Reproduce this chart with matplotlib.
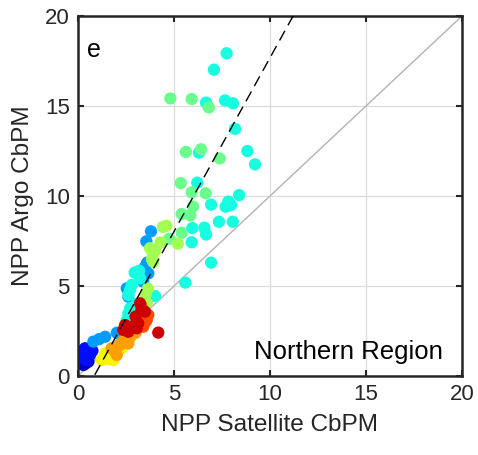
import matplotlib
matplotlib.use("Agg")
import matplotlib.pyplot as plt
import numpy as np

plt.rcParams['font.family'] = ['Liberation Sans', 'DejaVu Sans']

# Data: (satellite, argo) per colour group on the jet scale
cyan_x = [7.74, 7.08, 6.67, 7.66, 8.07, 8.18, 6.30, 8.82, 9.22, 6.21, 8.39, 6.93, 7.83, 7.69,
          7.97, 7.34, 8.06, 5.95, 6.58, 6.67, 5.92, 6.93, 5.59, 3.18, 3.23, 2.80, 2.71, 4.01,
          2.62, 2.71, 2.62, 2.54, 2.95, 3.05]
cyan_y = [17.93, 17.02, 15.19, 15.31, 15.15, 13.73, 12.41, 12.50, 11.76, 10.74, 10.05, 9.52,
          9.69, 9.41, 9.50, 8.57, 8.57, 8.22, 8.24, 7.86, 7.43, 6.30, 5.19, 5.85, 5.43, 5.06,
          4.78, 4.44, 4.50, 3.76, 3.48, 3.11, 5.75, 4.00]
green_x = [4.81, 5.92, 6.81, 5.62, 6.41, 7.38, 5.35, 5.92, 6.65, 5.99, 5.40, 5.85, 5.40, 4.74]
green_y = [15.42, 15.39, 14.92, 12.45, 12.60, 12.09, 10.72, 10.20, 10.15, 9.41, 9.00, 8.92,
           7.96, 7.62]
ygreen_x = [4.42, 4.60, 5.20, 4.30, 4.01, 3.90, 3.85, 3.92, 3.64, 3.52, 3.58, 3.75]
ygreen_y = [8.28, 8.35, 7.35, 7.42, 6.95, 6.75, 6.50, 6.35, 4.86, 4.52, 4.06, 7.10]
dblue_x = [3.80, 3.56, 3.60, 3.66, 3.40, 2.54, 2.62, 2.02, 1.41, 0.80, 1.10, 3.48]
dblue_y = [8.04, 7.48, 6.30, 5.70, 5.24, 4.87, 4.41, 2.40, 2.18, 1.91, 2.05, 6.05]
blue_x = [0.10, 0.36, 0.63, 0.19, 0.45, 0.02, 0.75, 0.30]
blue_y = [1.35, 1.54, 1.17, 1.07, 0.89, 1.00, 1.40, 1.25]
navy_x = [0.54, 0.28, 0.12, 0.40]
navy_y = [0.80, 0.61, 0.72, 0.70]
yellow_x = [1.41, 1.23, 1.84, 1.67, 2.28, 1.55, 2.05]
yellow_y = [1.26, 0.89, 0.89, 1.17, 1.54, 0.95, 1.30]
orange_x = [2.45, 2.19, 1.93, 1.75, 2.62, 2.02, 2.80, 3.00, 2.35, 2.70]
orange_y = [2.09, 1.72, 1.35, 1.54, 1.81, 1.17, 2.30, 2.40, 1.95, 2.15]
ored_x = [3.58, 3.14, 3.40, 3.66, 3.30, 3.50]
ored_y = [3.11, 3.30, 2.74, 3.39, 3.90, 3.00]
red_x = [3.23, 3.49, 2.45, 2.80, 3.14, 3.06, 2.36, 2.62, 3.00, 3.30, 4.18]
red_y = [4.04, 3.57, 2.83, 2.74, 2.93, 2.65, 2.56, 2.46, 3.30, 3.65, 2.41]

groups = [
    (navy_x, navy_y, 0.06),
    (blue_x, blue_y, 0.14),
    (dblue_x, dblue_y, 0.28),
    (cyan_x, cyan_y, 0.375),
    (green_x, green_y, 0.48),
    (ygreen_x, ygreen_y, 0.55),
    (yellow_x, yellow_y, 0.65),
    (orange_x, orange_y, 0.74),
    (ored_x, ored_y, 0.83),
    (red_x, red_y, 0.93),
]

fit_slope = 1.93
fit_intercept = -1.62

xticks = [0, 5, 10, 15, 20]
yticks = [0, 5, 10, 15, 20]

fig = plt.figure(figsize=(4.78, 4.55), dpi=100)
ax = fig.add_axes([0.1632, 0.1736, 0.8033, 0.7912])

ax.grid(True, color='#dcdcdc', linewidth=0.9, zorder=0)
ax.set_axisbelow(True)

ax.plot([0, 20], [0, 20], color='#b3b3b3', linewidth=1.0, zorder=1)

for gx, gy, cv in groups:
    ax.scatter(gx, gy, c=[cv] * len(gx), cmap='jet', vmin=0, vmax=1, s=78,
               linewidths=0, zorder=2)

fx = np.array([0, 20])
ax.plot(fx, fit_slope * fx + fit_intercept, color='black', linestyle=(0, (8, 4.5)),
        linewidth=1.0, zorder=3)

ax.set_xlim(0, 20)
ax.set_ylim(0, 20)
ax.set_xticks(xticks)
ax.set_yticks(yticks)
ax.tick_params(direction='in', length=4, width=1.5, top=True, right=True,
               labelsize=16, colors='#262626', pad=6)
for sp in ax.spines.values():
    sp.set_linewidth(1.8)
    sp.set_color('#262626')

ax.set_xlabel('NPP Satellite CbPM', fontsize=17.6, color='#262626', labelpad=6)
ax.set_ylabel('NPP Argo CbPM', fontsize=17.6, color='#262626', labelpad=8)

ax.text(0.023, 0.886, 'e', transform=ax.transAxes, fontsize=18, va='baseline', ha='left')
ax.text(0.95, 0.047, 'Northern Region', transform=ax.transAxes, fontsize=18.5,
        va='baseline', ha='right')

fig.savefig('out.png', dpi=100)
